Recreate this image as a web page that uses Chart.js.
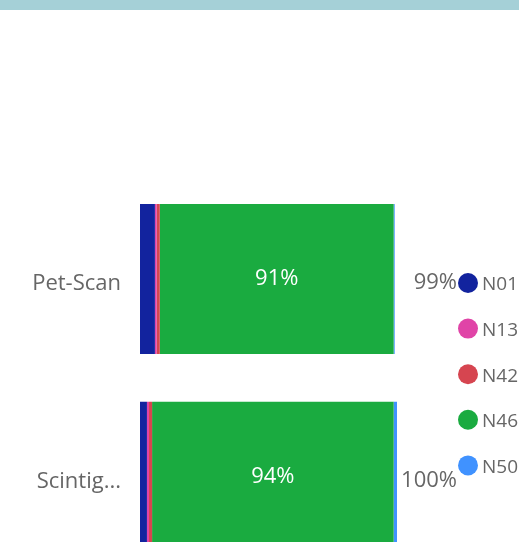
<!DOCTYPE html>
<html>
<head>
<meta charset="utf-8">
<script src="https://cdn.jsdelivr.net/npm/chart.js@4"></script>
<style>
  html, body { margin: 0; padding: 0; background: #fff; overflow: hidden; }
  #wrap { position: relative; width: 519px; height: 542px; overflow: hidden; }
  #topband { position: absolute; left: 0; top: 0; width: 519px; height: 10px; background: #a5d0d7; }
  #myChart { position: absolute; left: 0; top: 0; }
</style>
</head>
<body>
<div id="wrap">
  <canvas id="myChart" width="519" height="600"></canvas>
  <div id="topband"></div>
</div>
<script>
// данные графика
const categories = ['Pet-Scan', 'Scintig...'];
const seriesNames = ['N01', 'N13', 'N42', 'N46', 'N50'];
const seriesColors = ['#12239E', '#E044A7', '#D64550', '#1AAB40', '#4092FF'];
const n01 = [5.8, 2.7];
const n13 = [0.7, 0.8];
const n42 = [1.2, 1.2];
const n46 = [91.0, 94.0];
const n50 = [0.4, 1.3];
const xTicks = [0, 100];

const seriesValues = [n01, n13, n42, n46, n50];
const textColor = '#666666';
const fontFamily = '"Open Sans", "Noto Sans", sans-serif';

// подписи значений внутри зелёного сегмента и итог справа
const labelsPlugin = {
  id: 'valueLabels',
  afterDatasetsDraw(chart) {
    const ctx = chart.ctx;
    ctx.save();
    ctx.font = '22px ' + fontFamily;
    ctx.textBaseline = 'middle';
    const metaGreen = chart.getDatasetMeta(3);
    metaGreen.data.forEach((bar, i) => {
      ctx.fillStyle = '#ffffff';
      ctx.textAlign = 'center';
      ctx.fillText(Math.round(n46[i]) + '%', (bar.x + bar.base) / 2, bar.y);
    });
    categories.forEach((c, i) => {
      let total = 0;
      seriesValues.forEach(s => total += s[i]);
      const y = metaGreen.data[i].y + 4;
      ctx.fillStyle = textColor;
      ctx.textAlign = 'right';
      ctx.fillText(Math.round(total) + '%', chart.chartArea.right + 60, y);
    });
    ctx.restore();
  }
};

// легенда справа
const legendPlugin = {
  id: 'sideLegend',
  afterDraw(chart) {
    const ctx = chart.ctx;
    ctx.save();
    ctx.font = '19px ' + fontFamily;
    ctx.textBaseline = 'middle';
    ctx.textAlign = 'left';
    seriesNames.forEach((name, i) => {
      const y = 283 + i * 45.6;
      ctx.fillStyle = seriesColors[i];
      ctx.beginPath();
      ctx.arc(468, y, 10, 0, Math.PI * 2);
      ctx.fill();
      ctx.fillStyle = textColor;
      ctx.fillText(name, 482, y + 2);
    });
    ctx.restore();
  }
};

var ctx1 = document.getElementById('myChart').getContext('2d');
var myChart = new Chart(ctx1, {
  type: 'bar',
  data: {
    labels: categories,
    datasets: seriesNames.map((name, i) => ({
      label: name,
      data: seriesValues[i],
      backgroundColor: seriesColors[i],
      borderWidth: 0
    }))
  },
  options: {
    indexAxis: 'y',
    responsive: false,
    animation: false,
    barPercentage: 0.758,
    categoryPercentage: 1,
    layout: { padding: { top: 180, right: 122, bottom: 16, left: 0 } },
    plugins: {
      legend: { display: false },
      tooltip: { enabled: false }
    },
    scales: {
      x: {
        stacked: true,
        display: false,
        min: xTicks[0],
        max: xTicks[1]
      },
      y: {
        stacked: true,
        grid: { display: false },
        border: { display: false },
        ticks: {
          color: textColor,
          font: { size: 22, family: fontFamily },
          padding: 11,
          labelOffset: 5
        },
        afterFit(scale) { scale.width = 140; }
      }
    }
  },
  plugins: [labelsPlugin, legendPlugin]
});
</script>
</body>
</html>
